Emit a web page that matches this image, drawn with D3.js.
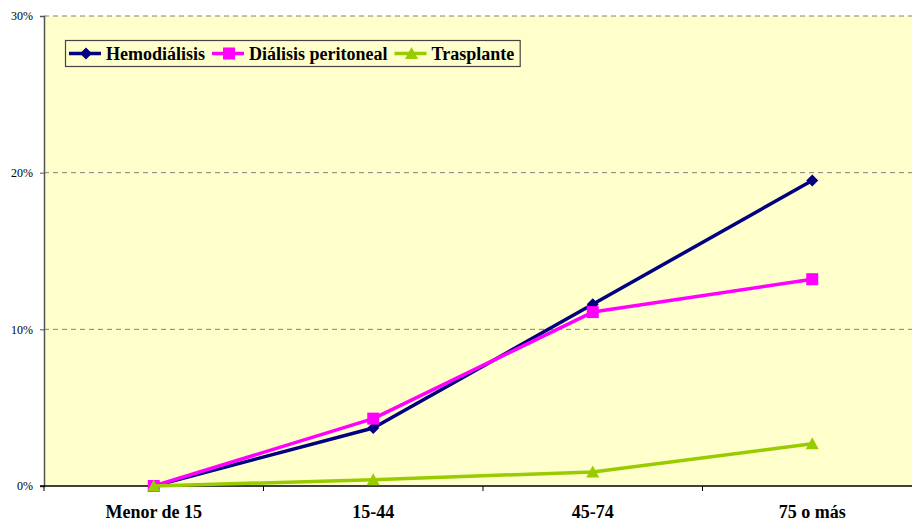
<!DOCTYPE html>
<html><head><meta charset="utf-8">
<script src="https://cdn.jsdelivr.net/npm/d3@7"></script>
<style>body{margin:0;background:#fff}svg{display:block}</style>
</head><body><svg id="c" width="912" height="522"></svg>
<script>
const categories = ["Menor de 15", "15-44", "45-74", "75 o más"];
const hemodialisis = [0, 3.7, 11.6, 19.5];
const dialisisPeritoneal = [0, 4.3, 11.1, 13.2];
const trasplante = [0, 0.4, 0.9, 2.7];
const seriesNames = ["Hemodiálisis", "Diálisis peritoneal", "Trasplante"];
const yTicks = [0, 10, 20, 30];

const colors = ["#000080", "#FF00FF", "#99CC00"];
const markers = ["diamond", "square", "triangle"];
const seriesVals = [hemodialisis, dialisisPeritoneal, trasplante];

const svg = d3.select("#c");
const L = 44, R = 922, T = 16, B = 486;
const x = d3.scaleBand().domain(categories).range([L, R]);
const y = d3.scaleLinear().domain([0, 30]).range([B, T]);
const font = "'Liberation Serif','Times New Roman',serif";

svg.append("rect").attr("x", L).attr("y", T).attr("width", R - L).attr("height", B - T).attr("fill", "#FFFFCC");

// gridlines
svg.append("g").selectAll("line").data(yTicks.filter(d => d > 0)).join("line")
  .attr("x1", L).attr("x2", R).attr("y1", d => y(d)).attr("y2", d => y(d))
  .attr("stroke", "#808080").attr("stroke-width", 1).attr("stroke-dasharray", "5,4");

// y axis
const yAxis = svg.append("g").attr("transform", `translate(${L},0)`)
  .call(d3.axisLeft(y).tickValues(yTicks).tickFormat(d => d + "%").tickSize(4).tickPadding(7));
yAxis.select(".domain").attr("stroke", "#555").attr("stroke-width", 1.5);
yAxis.selectAll(".tick line").attr("stroke", "#555");
yAxis.selectAll("text").attr("font-family", font).attr("font-size", 12).attr("fill", "#000");

// x axis
const xg = svg.append("g").attr("transform", `translate(0,${B})`);
xg.append("line").attr("x1", L - 4).attr("x2", R).attr("y1", 0).attr("y2", 0).attr("stroke", "#000").attr("stroke-width", 1.5);
const bounds = categories.map(c => x(c)).concat([R]);
xg.selectAll("line.t").data(bounds).join("line").attr("class", "t")
  .attr("x1", d => d).attr("x2", d => d).attr("y1", 0).attr("y2", 5).attr("stroke", "#000");
xg.selectAll("text").data(categories).join("text")
  .attr("x", d => x(d) + x.bandwidth() / 2).attr("y", 32)
  .attr("text-anchor", "middle").attr("font-family", font).attr("font-weight", "bold").attr("font-size", 18)
  .text(d => d);

function markerPath(type) {
  if (type === "diamond") return d3.symbol(d3.symbolDiamond2 || d3.symbolSquare2, 70)();
  if (type === "square") return d3.symbol(d3.symbolSquare, 130)();
  return d3.symbol(d3.symbolTriangle, 80)();
}
function drawMarker(g, type, cx, cy, color) {
  if (type === "diamond") {
    const s = 6;
    g.append("path").attr("d", `M${cx},${cy - s}L${cx + s},${cy}L${cx},${cy + s}L${cx - s},${cy}Z`).attr("fill", color);
  } else if (type === "square") {
    const s = 6;
    g.append("rect").attr("x", cx - s).attr("y", cy - s).attr("width", 2 * s).attr("height", 2 * s).attr("fill", color);
  } else {
    g.append("path").attr("d", `M${cx},${cy - 6.5}L${cx + 6.5},${cy + 5.5}L${cx - 6.5},${cy + 5.5}Z`).attr("fill", color);
  }
}

const line = d3.line().x((d, i) => x(categories[i]) + x.bandwidth() / 2).y(d => y(d));
seriesVals.forEach((vals, si) => {
  const g = svg.append("g");
  g.append("path").datum(vals).attr("d", line).attr("fill", "none")
    .attr("stroke", colors[si]).attr("stroke-width", 3.5).attr("stroke-linejoin", "round");
  vals.forEach((v, i) => drawMarker(g, markers[si], x(categories[i]) + x.bandwidth() / 2, y(v), colors[si]));
});

// legend
const lg = svg.append("g");
const box = lg.append("rect").attr("x", 65.5).attr("y", 40.5).attr("height", 26).attr("fill", "#FFFFCC")
  .attr("stroke", "#444").attr("stroke-width", 1.2);
let cx = 69;
const ly = 53.5;
seriesNames.forEach((name, si) => {
  lg.append("line").attr("x1", cx).attr("x2", cx + 32).attr("y1", ly).attr("y2", ly)
    .attr("stroke", colors[si]).attr("stroke-width", 3.5);
  drawMarker(lg, markers[si], cx + 17, ly, colors[si]);
  const t = lg.append("text").attr("x", cx + 37).attr("y", ly + 6).attr("font-family", font)
    .attr("font-weight", "bold").attr("font-size", 18).text(name);
  const w = t.node().getComputedTextLength();
  cx = cx + 37 + w + 7;
});
box.attr("width", cx - 65.5 - 1);
</script></body></html>
